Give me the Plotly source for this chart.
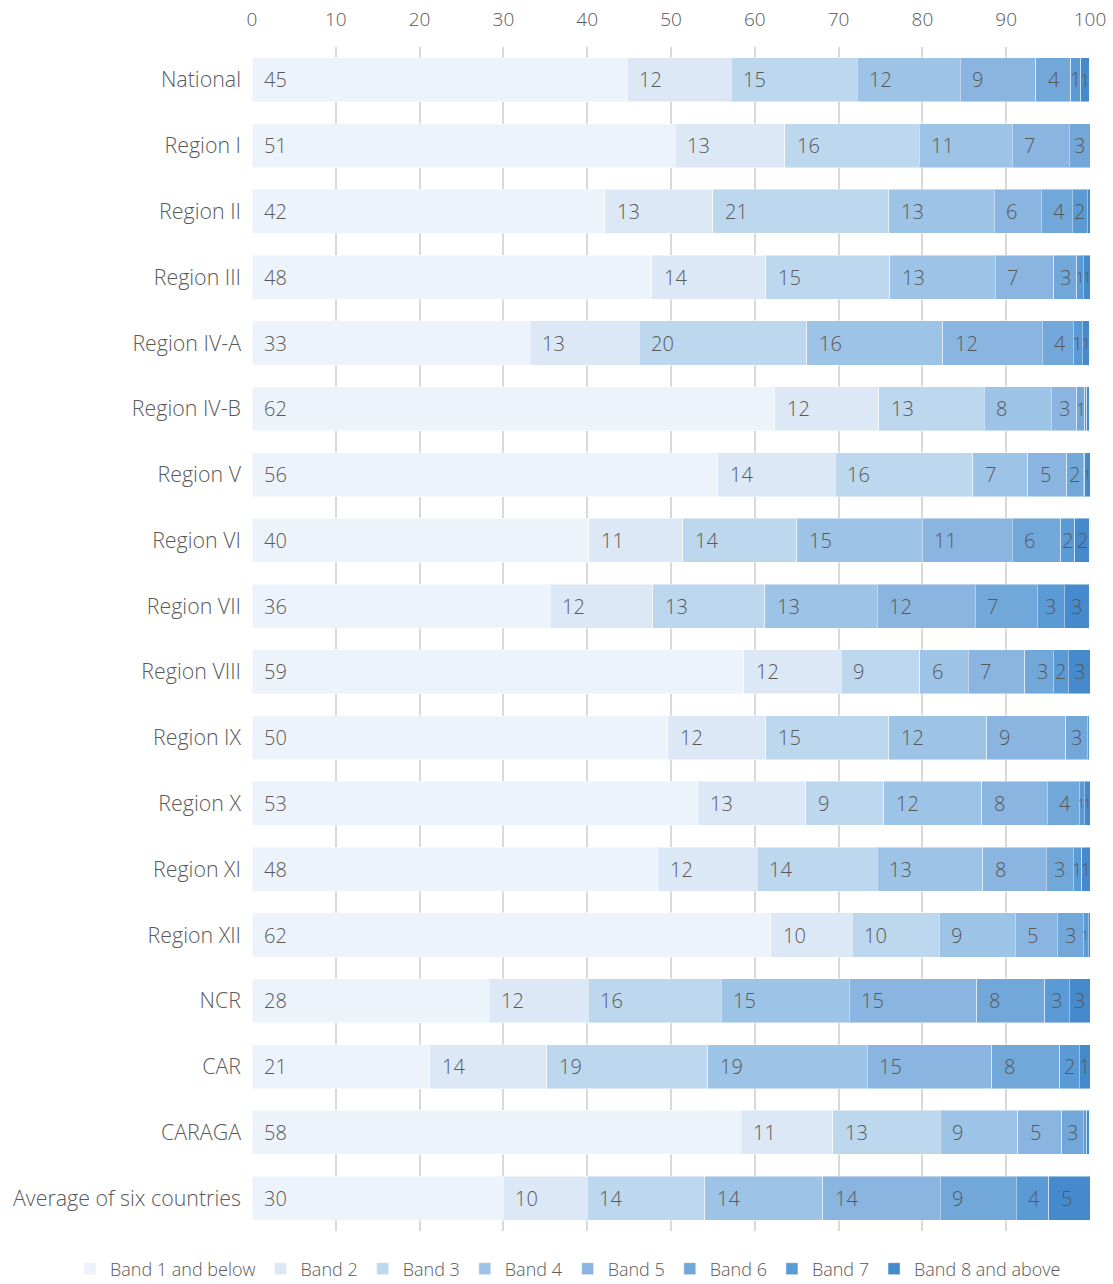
import plotly.graph_objects as go

categories = ["National", "Region I", "Region II", "Region III", "Region IV-A", "Region IV-B",
              "Region V", "Region VI", "Region VII", "Region VIII", "Region IX", "Region X",
              "Region XI", "Region XII", "NCR", "CAR", "CARAGA", "Average of six countries"]

band_names = ["Band 1 and below", "Band 2", "Band 3", "Band 4", "Band 5", "Band 6", "Band 7",
              "Band 8 and above"]

band1 = [44.8, 50.5, 42.1, 47.7, 33.2, 62.4, 55.6, 40.2, 35.6, 58.7, 49.6, 53.2, 48.4, 61.9, 28.3, 21.2, 58.4, 30.0]
band2 = [12.4, 13.1, 12.9, 13.6, 13.0, 12.4, 14.0, 11.2, 12.2, 11.6, 11.7, 12.9, 11.9, 9.7, 11.8, 14.0, 10.9, 10.0]
band3 = [15.0, 16.0, 21.0, 14.8, 20.0, 12.6, 16.4, 13.6, 13.4, 9.4, 14.7, 9.3, 14.3, 10.4, 15.9, 19.2, 12.8, 14.0]
band4 = [12.3, 11.1, 12.6, 12.6, 16.2, 8.0, 6.6, 15.0, 13.4, 5.8, 11.7, 11.7, 12.6, 9.1, 15.3, 19.0, 9.3, 14.1]
band5 = [9.0, 6.8, 5.6, 7.0, 11.9, 3.0, 4.6, 10.7, 11.7, 6.7, 9.4, 7.8, 7.6, 5.0, 15.2, 14.9, 5.2, 14.0]
band6 = [4.2, 2.6, 3.7, 2.7, 3.7, 1.0, 2.0, 5.8, 7.4, 3.4, 2.6, 3.8, 3.2, 3.1, 8.1, 8.1, 2.6, 9.1]
band7 = [1.2, 0.0, 1.8, 0.8, 1.1, 0.2, 0.2, 1.7, 3.2, 1.8, 0.2, 0.6, 1.0, 0.6, 2.9, 2.3, 0.4, 3.9]
band8 = [1.0, 0.0, 0.3, 0.8, 0.8, 0.3, 0.6, 1.7, 3.0, 2.6, 0.0, 0.7, 1.0, 0.2, 2.6, 1.3, 0.3, 5.0]

x_ticks = [0, 10, 20, 30, 40, 50, 60, 70, 80, 90, 100]

bands = [band1, band2, band3, band4, band5, band6, band7, band8]
colors = ["#EDF3FA", "#DCE8F5", "#BDD7EE", "#9DC3E6", "#8AB5E0", "#72A7DA", "#5B9BD5", "#458ACD"]

FONT = "Segoe UI Light, Open Sans, Noto Sans, sans-serif"
GREY = "#595959"

W, H = 1113, 1284
ML, MR, MT, MB = 252, 23, 47, 53
plot_w = W - ML - MR
plot_h = H - MT - MB
px_per_unit = plot_w / 100.0
DIGIT = 0.57  # approx digit advance in em

fig = go.Figure()
for name, vals, col in zip(band_names, bands, colors):
    fig.add_trace(go.Bar(
        y=categories, x=vals, name=name, orientation="h",
        marker=dict(color=col, line=dict(color="rgba(255,255,255,0.45)", width=1)),
        hoverinfo="x+y+name",
    ))

# data labels
annotations = []
for ci, cat in enumerate(categories):
    start = 0.0
    for vals in bands:
        v = vals[ci]
        lab = int(v + 0.5)
        if lab >= 1:
            txt = str(lab)
            tw = 20 * DIGIT * len(txt)
            seg_px = v * px_per_unit
            if seg_px >= 14 + tw + 2:
                annotations.append(dict(x=start, y=cat, xref="x", yref="y", text=txt,
                                        xanchor="left", xshift=12, showarrow=False,
                                        borderpad=0, borderwidth=0,
                                        font=dict(family=FONT, size=20, color=GREY, weight=300)))
            else:
                size = min(20.0, max(12.0, (seg_px + 1.5) / (DIGIT * len(txt))))
                annotations.append(dict(x=start + v / 2, y=cat, xref="x", yref="y", text=txt,
                                        xanchor="center", showarrow=False,
                                        borderpad=0, borderwidth=0,
                                        font=dict(family=FONT, size=size, color=GREY, weight=300)))
        start += v

fig.update_layout(
    barmode="stack",
    bargap=0.33,
    width=W, height=H,
    margin=dict(l=ML, r=MR, t=MT, b=MB, pad=0, autoexpand=False),
    plot_bgcolor="white", paper_bgcolor="white",
    font=dict(family=FONT, color=GREY, size=20, weight=300),
    annotations=annotations,
    legend=dict(orientation="h",
                x=(70 - ML) / plot_w, xanchor="left",
                y=-(1269 - (H - MB)) / plot_h, yanchor="middle",
                font=dict(size=18, color=GREY, family=FONT, weight=300),
                itemwidth=30, tracegroupgap=0, traceorder="normal", itemclick=False),
    xaxis=dict(side="top", range=[0, 100], tickvals=x_ticks, ticktext=[str(t) for t in x_ticks],
               showgrid=True, gridcolor="#D9D9D9", gridwidth=1.5, zeroline=False,
               showline=False, ticks="", tickfont=dict(size=19, color=GREY),
               ticklabelstandoff=16, automargin=False),
    yaxis=dict(autorange="reversed", showgrid=False, showline=False, ticks="",
               tickfont=dict(size=21.4, color=GREY), ticklabelstandoff=10, automargin=False),
    showlegend=True,
)

fig.write_html("out.html", config={"displayModeBar": False},
               post_script="document.body.style.margin='0';")
